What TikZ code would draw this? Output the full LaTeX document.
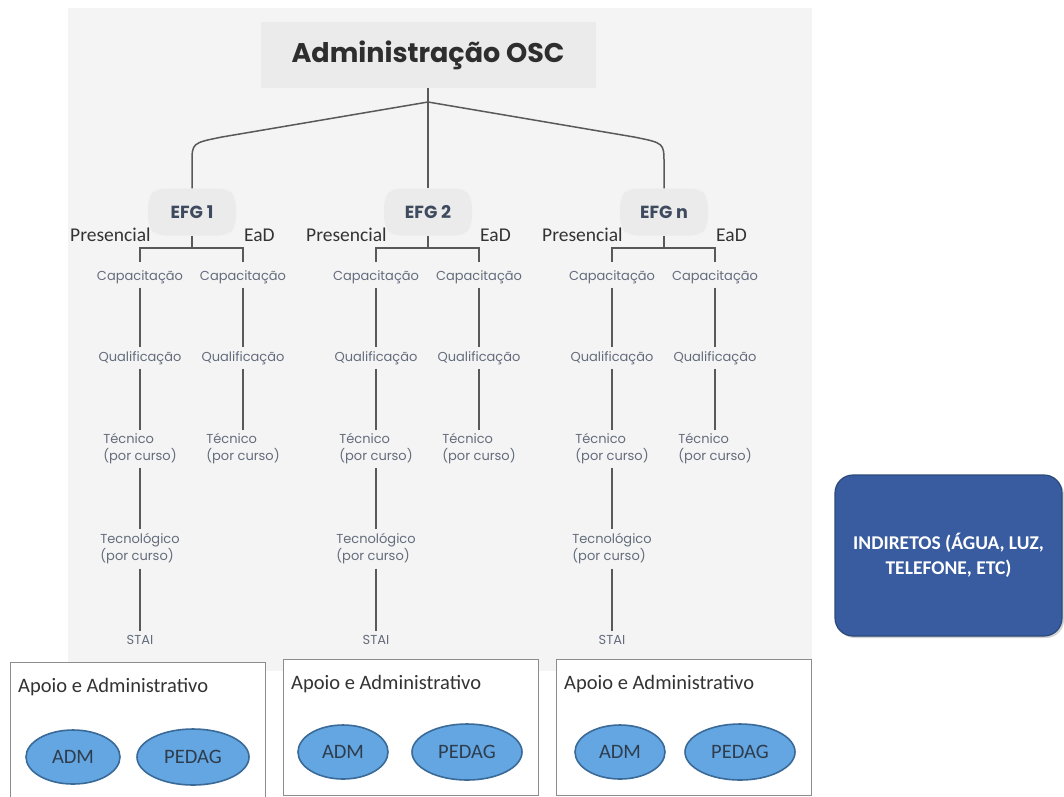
\documentclass[tikz,border=0pt]{standalone}
\usepackage{fontspec}
\setmainfont{Carlito}
\newfontfamily\geo{Poppins}
\usetikzlibrary{shapes.misc,shapes.geometric,shadows}
\definecolor{panel}{HTML}{F4F4F4}
\definecolor{boxgray}{HTML}{EBEBEB}
\definecolor{titlec}{HTML}{2E2E2E}
\definecolor{connc}{HTML}{595959}
\definecolor{efgc}{HTML}{3E4B5E}
\definecolor{lvlc}{HTML}{646C7C}
\definecolor{labc}{HTML}{333333}
\definecolor{ovaltext}{HTML}{2E3D4D}
\definecolor{ellfill}{HTML}{64A6E2}
\definecolor{ellrim}{HTML}{3A6A98}
\definecolor{indfill}{HTML}{385C9F}
\definecolor{indrim}{HTML}{2B4979}
\definecolor{apoiorim}{HTML}{8C8C8C}
\tikzset{
  conn/.style={draw=connc, line width=1.5pt},
  titlebox/.style={fill=boxgray, minimum width=335pt, minimum height=66pt, inner sep=0pt,
    font=\geo\bfseries\fontsize{27}{32}\selectfont, text=titlec},
  efgbox/.style={shape=chamfered rectangle, chamfered rectangle angle=40,
    chamfered rectangle xsep=14pt, rounded corners=8pt, fill=boxgray,
    minimum width=88pt, minimum height=47pt, inner sep=0pt,
    font=\geo\bfseries\fontsize{17.5}{20}\selectfont, text=efgc},
  modlab/.style={font=\fontsize{19.5}{23}\selectfont, text=labc, inner sep=0pt, anchor=base west},
  lvl/.style={font=\geo\fontsize{13}{17}\selectfont, text=lvlc, align=left, inner sep=4pt},
  apoio/.style={draw=apoiorim, fill=white, line width=1pt},
  apoiolab/.style={font=\fontsize{20.5}{24}\selectfont, text=labc, inner sep=0pt, anchor=base west},
  oval/.style={shape=ellipse, inner sep=0pt, fill=ellfill,
    draw=ellrim, line width=1.6pt, font=\fontsize{20.5}{24}\selectfont, text=ovaltext},
  ind/.style={shape=rectangle, rounded corners=18pt, fill=indfill, draw=indrim, line width=1.2pt,
    minimum width=227pt, minimum height=161pt, align=center, text=white,
    font=\bfseries\fontsize{19.5}{25}\selectfont,
    drop shadow={opacity=0.35, shadow xshift=2pt, shadow yshift=-2pt}}
}
\begin{document}
\begin{tikzpicture}[x=1pt,y=-1pt]
\useasboundingbox (0,0) rectangle (1064,796);
% background panel
\fill[panel] (68,8) rectangle (812,671);
% title
\node[titlebox] (title) at (428,55) {Administração OSC};
\coordinate (j) at (428,102);
% EFG nodes
\node[efgbox] (e1) at (192,212) {EFG 1};
\node[efgbox] (e2) at (428,212) {EFG 2};
\node[efgbox] (e3) at (664,212) {EFG n};
% top connectors
\coordinate (l1) at (222,137);
\coordinate (lc) at (192,143);
\coordinate (l2) at (192,163);
\coordinate (r1) at (634,137);
\coordinate (rc) at (664,143);
\coordinate (r2) at (664,163);
\draw[conn] (title.south) -- (j);
\draw[conn] (j) -- (e2.north);
\draw[conn] (j) -- (l1) .. controls (lc) .. (l2) -- (e1.north);
\draw[conn] (j) -- (r1) .. controls (rc) .. (r2) -- (e3.north);
% columns
\foreach \i/\x in {1/192,2/428,3/664}{
  \pgfmathsetmacro{\pa}{\x-52}
  \pgfmathsetmacro{\pb}{\x+51}
  \pgfmathsetmacro{\pl}{\x-122}
  \pgfmathsetmacro{\el}{\x+52}
  \node[modlab] (pres\i) at (\pl,241) {Presencial};
  \node[modlab] (ead\i) at (\el,241) {EaD};
  \node[lvl] (ca\i) at (\pa,277) {Capacitação};
  \node[lvl] (qa\i) at (\pa,358) {Qualificação};
  \node[lvl] (ta\i) at (\pa,449) {Técnico\\(por curso)};
  \node[lvl] (ga\i) at (\pa,549) {Tecnológico\\(por curso)};
  \node[lvl] (sa\i) at (\pa,640) {STAI};
  \node[lvl] (cb\i) at (\pb,277) {Capacitação};
  \node[lvl] (qb\i) at (\pb,358) {Qualificação};
  \node[lvl] (tb\i) at (\pb,449) {Técnico\\(por curso)};
  \coordinate (h\i) at (\x,248);
  \draw[conn] (e\i.south) -- (h\i);
  \draw[conn] (h\i) -| ([yshift=4pt]ca\i.north);
  \draw[conn] (h\i) -| ([yshift=4pt]cb\i.north);
  \draw[conn] (ca\i.south) -- (ca\i.south |- qa\i.north);
  \draw[conn] (qa\i.south) -- (qa\i.south |- ta\i.north);
  \draw[conn] (ta\i.south) -- (ta\i.south |- ga\i.north);
  \draw[conn] (ga\i.south) -- (ga\i.south |- sa\i.north);
  \draw[conn] (cb\i.south) -- (cb\i.south |- qb\i.north);
  \draw[conn] (qb\i.south) -- (qb\i.south |- tb\i.north);
}
% bottom boxes
\draw[apoio] (10,662) rectangle (265,798);
\draw[apoio] (283,659) rectangle (538,795);
\draw[apoio] (556,659) rectangle (811,795);
\node[apoiolab] (ap1) at (18,692) {Apoio e Administrativo};
\node[apoiolab] (ap2) at (291,689) {Apoio e Administrativo};
\node[apoiolab] (ap3) at (564,689) {Apoio e Administrativo};
\node[oval, minimum width=94pt, minimum height=54pt] (adm1) at (73,757) {ADM};
\node[oval, minimum width=112pt, minimum height=56pt] (ped1) at (193,757) {PEDAG};
\node[oval, minimum width=90pt, minimum height=54pt] (adm2) at (343,752) {ADM};
\node[oval, minimum width=110pt, minimum height=56pt] (ped2) at (467,752) {PEDAG};
\node[oval, minimum width=90pt, minimum height=54pt] (adm3) at (620,752) {ADM};
\node[oval, minimum width=110pt, minimum height=56pt] (ped3) at (740,752) {PEDAG};
% indirect costs
\node[ind] (indir) at (948.5,555.5) {INDIRETOS (ÁGUA, LUZ,\\TELEFONE, ETC)};
\end{tikzpicture}
\end{document}
